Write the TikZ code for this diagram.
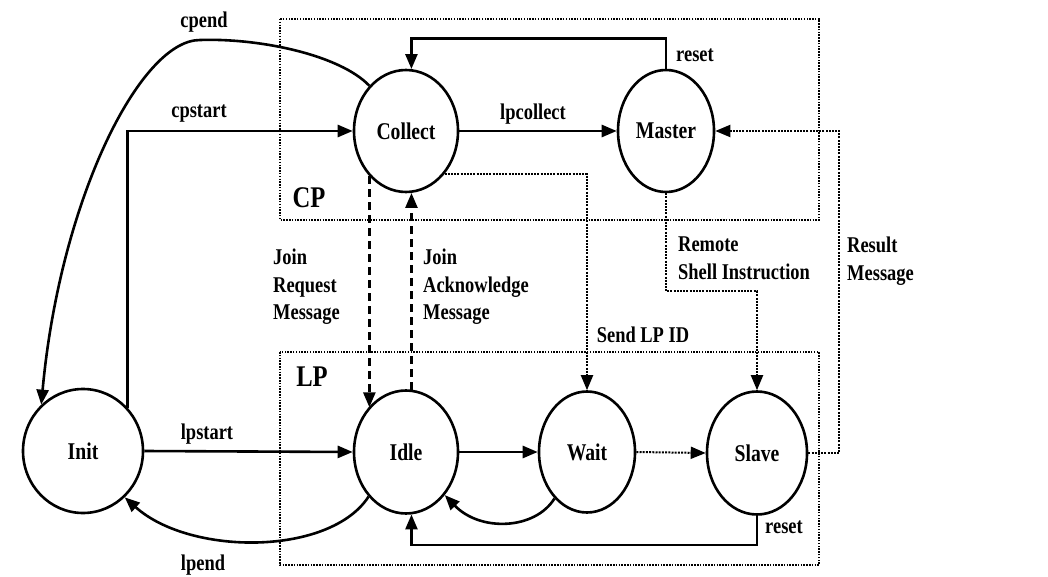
\documentclass[tikz,border=0pt]{standalone}
\usepackage{fontspec}
\setmainfont{Liberation Serif}[FakeStretch=0.82]
\usetikzlibrary{shapes.geometric,arrows.meta}
\tikzset{
 state/.style={draw, ellipse, line width=2.6pt, inner sep=0pt, font=\fontsize{24}{27}\selectfont\bfseries},
 lbl/.style={inner sep=0pt, font=\fontsize{22.5}{27.5}\selectfont\bfseries, align=left},
 biglbl/.style={inner sep=0pt, font=\fontsize{30}{30}\selectfont\bfseries},
 tip/.style={-{Triangle[length=15pt,width=12pt]}},
 solidarr/.style={line width=2.6pt, tip},
 dotarr/.style={line width=2pt, dash pattern=on 2pt off 1.2pt, tip},
 dasharr/.style={line width=2.6pt, dash pattern=on 8pt off 5pt, tip},
 region/.style={line width=1.8pt, dash pattern=on 1.5pt off 1.3pt},
}
\begin{document}
\begin{tikzpicture}[x=1pt,y=-1pt]
\useasboundingbox (0,0) rectangle (1048,577);
% regions
\draw[region] (280,19) rectangle (819,220);
\draw[region] (280,352) rectangle (819,565);
% states
\node[state, minimum width=120pt, minimum height=124pt] (init) at (83,451) {Init};
\node[state, minimum width=104pt, minimum height=122pt] (collect) at (406,131) {Collect};
\node[state, minimum width=96pt, minimum height=122pt] (master) at (666,131) {Master};
\node[state, minimum width=104pt, minimum height=123pt] (idle) at (406,452) {Idle};
\node[state, minimum width=96pt, minimum height=121pt] (wait) at (587,452) {Wait};
\node[state, minimum width=100pt, minimum height=123pt] (slave) at (757,453) {Slave};
% connectors
\draw[solidarr] (collect.129) .. controls (340,55) and (260,38) .. (200,40)
  .. controls (140,40) and (60,200) .. (init.132);
\draw[solidarr] (init.44) |- (collect.west);
\draw[solidarr] (collect.east) -- (master.west);
\draw[solidarr] (master.north) -- ++(0,-30) -| (collect.85);
\draw[dotarr] (collect.-48) -| (wait.north);
\draw[dotarr] (master.south) -- ++(0,98) -| (slave.north);
\draw[dotarr] (slave.east) -- ++(31,0) |- (master.east);
\draw[dasharr] (collect.-129) -- (collect.-129 |- idle.130);
\draw[dasharr] (idle.85) -- (idle.85 |- collect.-85);
\draw[solidarr] (init.east) -- (idle.west);
\draw[solidarr] (idle.-130) .. controls (330,556) and (190,556) .. (init.-48);
\draw[solidarr] (idle.east) -- (wait.west);
\draw[solidarr] (wait.-125) .. controls (535,530) and (480,532) .. (idle.-48);
\draw[dotarr] (wait.east) -- (slave.west);
\draw[solidarr] (slave.south) -- ++(0,29) -| (idle.-85);
% labels
\node[lbl] (lcpend) at (204,22) {cpend};
\node[lbl] (lcpstart) at (199,114) {cpstart};
\node[lbl] (llpcollect) at (533,114) {lpcollect};
\node[lbl] (lreset1) at (695,55) {reset};
\node[lbl, anchor=north west] (lremote) at (678,237) {Remote\\Shell Instruction};
\node[lbl, anchor=north west] (lresult) at (847,237) {Result\\Message};
\node[lbl] (lsend) at (643,335) {Send LP ID};
\node[lbl, anchor=north west] (ljoinreq) at (273,249) {Join\\Request\\Message};
\node[lbl, anchor=north west] (ljoinack) at (423,249) {Join\\Acknowledge\\Message};
\node[biglbl] (lcp) at (309,198) {CP};
\node[biglbl] (llp) at (312,377) {LP};
\node[lbl] (llpstart) at (207,434) {lpstart};
\node[lbl] (llpend) at (203,565) {lpend};
\node[lbl] (lreset2) at (784,527) {reset};
\end{tikzpicture}
\end{document}
